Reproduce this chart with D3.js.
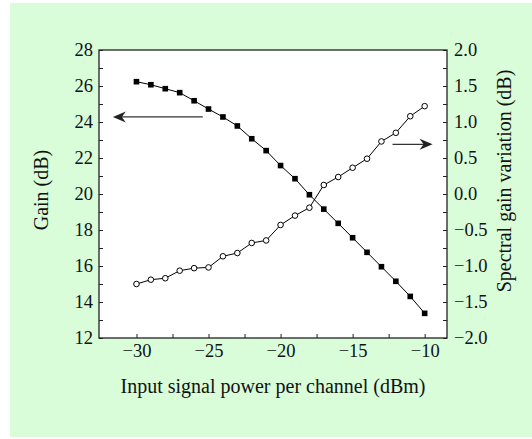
<!DOCTYPE html>
<html><head><meta charset="utf-8">
<script src="https://cdn.jsdelivr.net/npm/d3@7"></script>
<style>html,body{margin:0;padding:0;background:#fff;}svg{display:block;}</style>
</head><body>
<script>
const power = [-30,-29,-28,-27,-26,-25,-24,-23,-22,-21,-20,-19,-18,-17,-16,-15,-14,-13,-12,-11,-10];
const gain = [26.24,26.07,25.85,25.63,25.18,24.72,24.28,23.78,23.07,22.41,21.58,20.85,19.96,19.16,18.37,17.57,16.76,15.96,15.15,14.31,13.37];
const variation = [-1.25,-1.19,-1.17,-1.065,-1.03,-1.02,-0.865,-0.82,-0.68,-0.645,-0.43,-0.30,-0.19,0.125,0.236,0.365,0.49,0.73,0.85,1.08,1.22];
const xTicks = [-30,-25,-20,-15,-10];
const yLeftTicks = [12,14,16,18,20,22,24,26,28];
const yRightTicks = [-2.0,-1.5,-1.0,-0.5,0.0,0.5,1.0,1.5,2.0];
const xTitle = "Input signal power per channel (dBm)";
const yLeftTitle = "Gain (dB)";
const yRightTitle = "Spectral gain variation (dB)";
// arrows in data coords: [x1, x2, y]
const leftArrow = [-25.4, -31.64, 24.28];
const rightArrow = [-12.23, -9.45, 0.69];

const W = 532, H = 439;
const m = {l: 99, r: 447, t: 50, b: 338};
const font = "'Liberation Serif','Times New Roman',serif";
const svg = d3.select("body").append("svg").attr("width", W).attr("height", H);
svg.append("rect").attr("x",10).attr("y",3).attr("width",W-10).attr("height",434).attr("fill","#d9fcd9");

const x = d3.scaleLinear().domain([-32.6,-8.45]).range([m.l, m.r]);
const yL = d3.scaleLinear().domain([12,28]).range([m.b, m.t]);
const yR = d3.scaleLinear().domain([-2,2]).range([m.b, m.t]);

svg.append("rect").attr("x",m.l).attr("y",m.t).attr("width",m.r-m.l).attr("height",m.b-m.t).attr("fill","#fff");

const fmtMinus = s => s.replace("-", "\u2212");
const tl = 4;
// axes
const gx = svg.append("g").attr("transform",`translate(0,${m.b})`)
  .call(d3.axisBottom(x).tickValues(d3.range(-30,-9.9,2.5)).tickSize(-tl).tickFormat(d => xTicks.includes(d) ? fmtMinus(d3.format("d")(d)) : "").tickPadding(6));
const gl = svg.append("g").attr("transform",`translate(${m.l},0)`)
  .call(d3.axisLeft(yL).tickValues(d3.range(12,28.1,1)).tickSize(-tl).tickFormat(d => yLeftTicks.includes(d) ? d : "").tickPadding(6));
const gr = svg.append("g").attr("transform",`translate(${m.r},0)`)
  .call(d3.axisRight(yR).tickValues(d3.range(-2,2.01,0.25)).tickSize(-tl).tickFormat(d => yRightTicks.some(t => Math.abs(t-d)<1e-9) ? fmtMinus(d3.format(".1f")(d)) : "").tickPadding(7));
[gx,gl,gr].forEach(g => {
  g.select(".domain").remove();
  g.selectAll("line").attr("stroke","#222").attr("stroke-width",1);
  g.selectAll("text").attr("font-family",font).attr("font-size",18.5).attr("fill","#111");
});
svg.append("rect").attr("x",m.l).attr("y",m.t).attr("width",m.r-m.l).attr("height",m.b-m.t)
  .attr("fill","none").attr("stroke","#222").attr("stroke-width",1.3);

// lines
const lineG = d3.line().x((d,i)=>x(power[i])).y(d=>yL(d));
const lineV = d3.line().x((d,i)=>x(power[i])).y(d=>yR(d));
svg.append("path").attr("d",lineG(gain)).attr("fill","none").attr("stroke","#000").attr("stroke-width",1);
svg.append("path").attr("d",lineV(variation)).attr("fill","none").attr("stroke","#000").attr("stroke-width",1);
svg.selectAll(".sq").data(gain).enter().append("rect")
  .attr("x",(d,i)=>x(power[i])-2.8).attr("y",d=>yL(d)-2.8).attr("width",5.6).attr("height",5.6).attr("fill","#000");
svg.selectAll(".ci").data(variation).enter().append("circle")
  .attr("cx",(d,i)=>x(power[i])).attr("cy",d=>yR(d)).attr("r",2.8)
  .attr("fill","#fff").attr("stroke","#000").attr("stroke-width",1);

// arrows
function arrow(x1,x2,y){
  const dir = Math.sign(x2-x1);
  svg.append("line").attr("x1",x1).attr("x2",x2 - dir*8).attr("y1",y).attr("y2",y).attr("stroke","#333").attr("stroke-width",1.3);
  const L = 13, hw = 5.5, notch = 9;
  svg.append("path").attr("d",`M${x2},${y} L${x2-dir*L},${y-hw} L${x2-dir*notch},${y} L${x2-dir*L},${y+hw} Z`).attr("fill","#222");
}
arrow(x(leftArrow[0]), x(leftArrow[1]), yL(leftArrow[2]));
arrow(x(rightArrow[0]), x(rightArrow[1]), yR(rightArrow[2]));

// titles
svg.append("text").attr("x",(m.l+m.r)/2).attr("y",393).attr("text-anchor","middle")
  .attr("font-family",font).attr("font-size",20).attr("fill","#111").text(xTitle);
svg.append("text").attr("transform",`translate(48,190) rotate(-90)`).attr("text-anchor","middle")
  .attr("font-family",font).attr("font-size",20).attr("fill","#111").text(yLeftTitle);
svg.append("text").attr("transform",`translate(511,181) rotate(-90)`).attr("text-anchor","middle")
  .attr("font-family",font).attr("font-size",20).attr("fill","#111").text(yRightTitle);
</script>
</body></html>
